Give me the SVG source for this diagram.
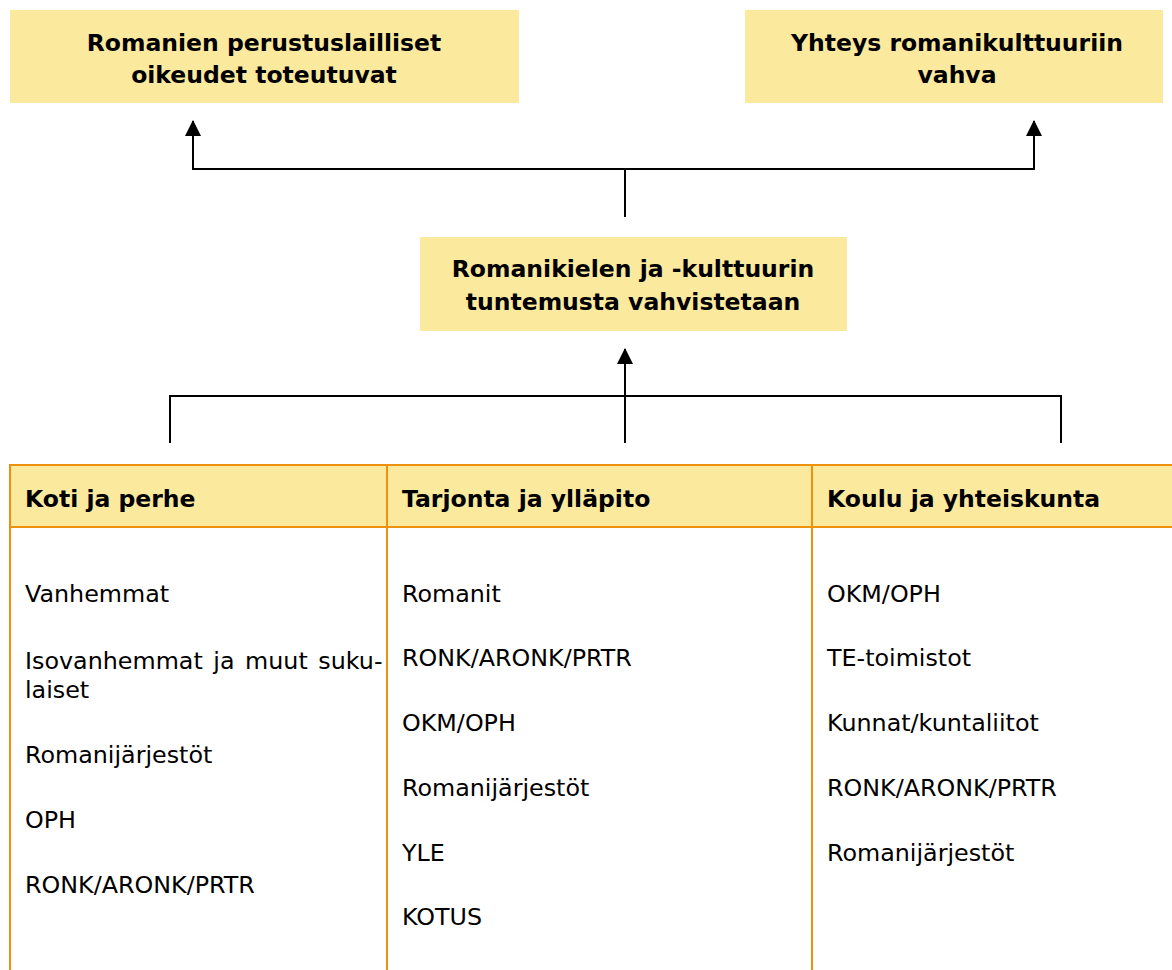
<svg xmlns="http://www.w3.org/2000/svg" width="1172" height="970" viewBox="0 0 1172 970">
<defs>
<marker id="arr" markerUnits="userSpaceOnUse" markerWidth="16" markerHeight="16" viewBox="0 0 16 16" refX="15" refY="8" orient="auto-start-reverse">
<polygon points="16,8 0,0 0,16" fill="#000"/>
</marker>
<style>
.box{fill:#FBE99D;}
.hdr{fill:#FBE99D;}
.bt{font-family:"DejaVu Sans",Verdana,sans-serif;font-weight:bold;font-size:23.5px;fill:#000;}
.tx{font-family:"DejaVu Sans",Verdana,sans-serif;font-size:23.8px;fill:#000;}
.ln{fill:none;stroke:#000;stroke-width:2;}
.or{fill:none;stroke:#EC920E;stroke-width:2;}
</style>
</defs>
<rect width="1172" height="970" fill="#fff"/>
<g id="goal-rights">
<rect class="box" x="10" y="10" width="509" height="93"/>
<text class="bt" x="264" y="51" text-anchor="middle">Romanien perustuslailliset</text>
<text class="bt" x="264" y="83" text-anchor="middle">oikeudet toteutuvat</text>
</g>
<g id="goal-culture">
<rect class="box" x="745" y="10" width="418" height="93"/>
<text class="bt" x="957" y="51" text-anchor="middle">Yhteys romanikulttuuriin</text>
<text class="bt" x="957" y="83" text-anchor="middle">vahva</text>
</g>
<g id="knowledge">
<rect class="box" x="420" y="237" width="427" height="94"/>
<text class="bt" x="633" y="277" text-anchor="middle">Romanikielen ja -kulttuurin</text>
<text class="bt" x="633" y="310" text-anchor="middle">tuntemusta vahvistetaan</text>
</g>
<g id="connectors">
<line class="ln" x1="625" y1="217" x2="625" y2="169"/>
<polyline class="ln" points="193,121 193,169 1034,169 1034,121" marker-start="url(#arr)" marker-end="url(#arr)"/>
<polyline class="ln" points="170,443 170,396 1061,396 1061,443"/>
<line class="ln" x1="625" y1="443" x2="625" y2="349" marker-end="url(#arr)"/>
</g>
<g id="col-koti">
<rect class="hdr" x="10" y="465" width="377" height="62"/>
<text class="bt" x="25" y="507">Koti ja perhe</text>
<text class="tx" x="25" y="602">Vanhemmat</text>
<text class="tx" x="25" y="669" word-spacing="3">Isovanhemmat ja muut suku-</text>
<text class="tx" x="25" y="698">laiset</text>
<text class="tx" x="25" y="763">Romanijärjestöt</text>
<text class="tx" x="25" y="828">OPH</text>
<text class="tx" x="25" y="893">RONK/ARONK/PRTR</text>
</g>
<g id="col-tarjonta">
<rect class="hdr" x="387" y="465" width="425" height="62"/>
<text class="bt" x="402" y="507">Tarjonta ja ylläpito</text>
<text class="tx" x="402" y="602">Romanit</text>
<text class="tx" x="402" y="666">RONK/ARONK/PRTR</text>
<text class="tx" x="402" y="731">OKM/OPH</text>
<text class="tx" x="402" y="796">Romanijärjestöt</text>
<text class="tx" x="402" y="861">YLE</text>
<text class="tx" x="402" y="925">KOTUS</text>
</g>
<g id="col-koulu">
<rect class="hdr" x="812" y="465" width="360" height="62"/>
<text class="bt" x="827" y="507">Koulu ja yhteiskunta</text>
<text class="tx" x="827" y="602">OKM/OPH</text>
<text class="tx" x="827" y="666">TE-toimistot</text>
<text class="tx" x="827" y="731">Kunnat/kuntaliitot</text>
<text class="tx" x="827" y="796">RONK/ARONK/PRTR</text>
<text class="tx" x="827" y="861">Romanijärjestöt</text>
</g>
<g id="table-grid">
<polyline class="or" points="10,970 10,465 1172,465"/>
<line class="or" x1="10" y1="527" x2="1172" y2="527"/>
<line class="or" x1="387" y1="465" x2="387" y2="970"/>
<line class="or" x1="812" y1="465" x2="812" y2="970"/>
</g>
</svg>
